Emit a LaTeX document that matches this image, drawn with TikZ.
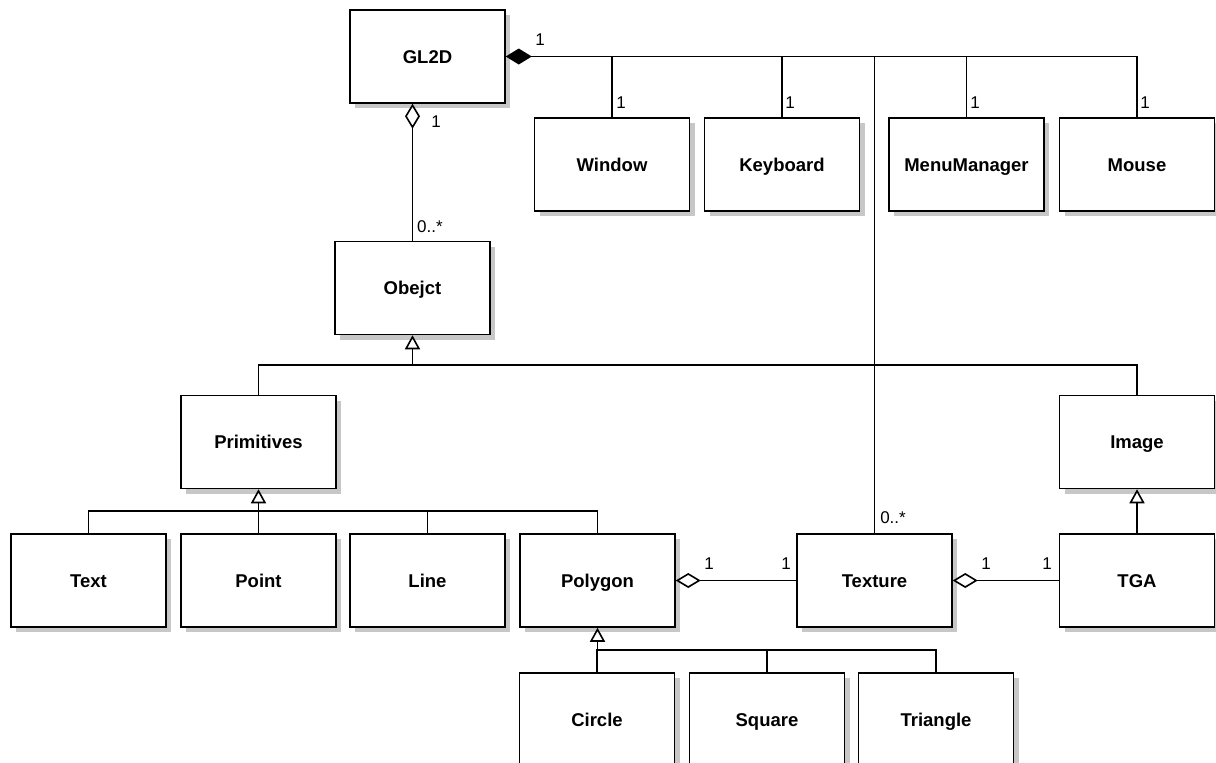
\documentclass[tikz,border=0pt]{standalone}
\usepackage{fontspec}
\setmainfont{Liberation Sans}
\usetikzlibrary{arrows.meta,shadows}
\begin{document}
\begin{tikzpicture}[x=1pt,y=-1pt,
  cls/.style={draw, fill=white, line width=1.5pt, minimum width=155pt, minimum height=93pt,
    inner sep=0pt, text height=13pt, text depth=0pt, font=\fontsize{18.5}{21}\selectfont\bfseries,
    drop shadow={shadow xshift=5pt, shadow yshift=-5pt, fill=black!22, opacity=1}},
  conn/.style={line width=1.6pt},
  comp/.style={conn, {Diamond[fill=black, length=26pt, width=16pt]}-},
  aggr/.style={conn, {Diamond[fill=white, length=25pt, width=15pt]}-},
  gen/.style={conn, {Triangle[fill=white, length=14pt, width=15pt]}-},
  mult/.style={inner sep=0pt, font=\fontsize{17}{20}\selectfont}]
\useasboundingbox (0,0) rectangle (1216,763);
\clip (0,0) rectangle (1216,763);
% classes
\node[cls] (gl2d) at (427.5,56.5) {GL2D};
\node[cls] (window) at (612,164.5) {Window};
\node[cls] (keyboard) at (782,164.5) {Keyboard};
\node[cls] (menu) at (966.5,164.5) {MenuManager};
\node[cls] (mouse) at (1137,164.5) {Mouse};
\node[cls] (obejct) at (412.5,288) {Obejct};
\node[cls] (primitives) at (258.5,442) {Primitives};
\node[cls] (image) at (1137,442) {Image};
\node[cls] (text) at (88.5,580.5) {Text};
\node[cls] (point) at (258.5,580.5) {Point};
\node[cls] (line) at (427.5,580.5) {Line};
\node[cls] (polygon) at (597.5,580.5) {Polygon};
\node[cls] (texture) at (874.5,580.5) {Texture};
\node[cls] (tga) at (1137,580.5) {TGA};
\node[cls] (circle) at (597,719.5) {Circle};
\node[cls] (square) at (767,719.5) {Square};
\node[cls] (triangle) at (936,719.5) {Triangle};
% composition tree from GL2D
\draw[comp] (gl2d.east) -- (mouse.north |- gl2d.east) -- (mouse.north);
\draw[conn] (window.north) -- (window.north |- gl2d.east);
\draw[conn] (keyboard.north) -- (keyboard.north |- gl2d.east);
\draw[conn] (menu.north) -- (menu.north |- gl2d.east);
\draw[conn] (texture.north) -- (texture.north |- gl2d.east);
% GL2D aggregation to Obejct
\draw[aggr] (gl2d.south -| obejct.north) -- (obejct.north);
% Obejct generalization
\coordinate (objbar) at (412.5,365);
\draw[gen] (obejct.south) -- (objbar);
\draw[conn] (primitives.north) -- (primitives.north |- objbar) -- (image.north |- objbar) -- (image.north);
% Primitives generalization
\coordinate (primbar) at (258.5,511);
\draw[gen] (primitives.south) -- (point.north);
\draw[conn] (text.north) -- (text.north |- primbar) -- (polygon.north |- primbar) -- (polygon.north);
\draw[conn] (line.north) -- (line.north |- primbar);
% Polygon generalization
\coordinate (polybar) at (597.5,650);
\draw[gen] (polygon.south) -- (polybar);
\draw[conn] (circle.north) -- (circle.north |- polybar) -- (triangle.north |- polybar) -- (triangle.north);
\draw[conn] (square.north) -- (square.north |- polybar);
% Image generalization
\draw[gen] (image.south) -- (tga.north);
% aggregations
\draw[aggr] (polygon.east) -- (texture.west);
\draw[aggr] (texture.east) -- (tga.west);
% multiplicities
\node[mult] (m1) at (540,40) {1};
\node[mult] (m2) at (621,103) {1};
\node[mult] (m3) at (790,103) {1};
\node[mult] (m4) at (975,103) {1};
\node[mult] (m5) at (1145,103) {1};
\node[mult] (m6) at (436,122) {1};
\node[mult] (m7) at (430,227) {0..*};
\node[mult] (m8) at (893,518) {0..*};
\node[mult] (m9) at (709,564) {1};
\node[mult] (m10) at (786,564) {1};
\node[mult] (m11) at (986,564) {1};
\node[mult] (m12) at (1047,564) {1};
\end{tikzpicture}
\end{document}
